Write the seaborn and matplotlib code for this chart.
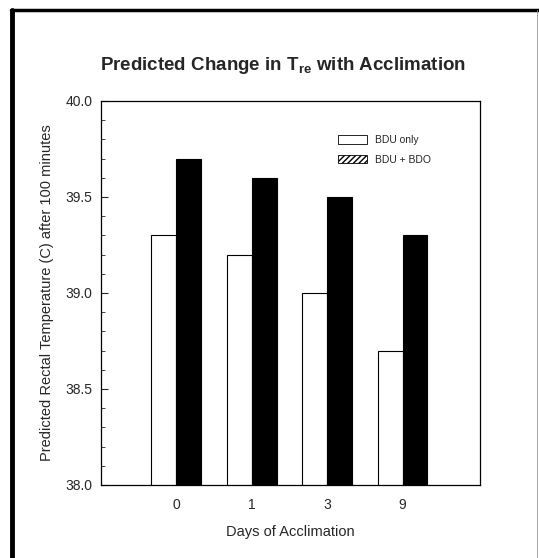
import numpy as np
import pandas as pd
import seaborn as sns
import matplotlib.pyplot as plt
from matplotlib.patches import Patch
from matplotlib.lines import Line2D
from matplotlib.ticker import MultipleLocator

# Values
days = ["0", "1", "3", "9"]
bdu_only = [39.3, 39.2, 39.0, 38.7]
bdu_bdo = [39.7, 39.6, 39.5, 39.3]
series = ["BDU only", "BDU + BDO"]

df = pd.DataFrame({
    "day": days * 2,
    "temp": bdu_only + bdu_bdo,
    "clothing": [series[0]] * len(days) + [series[1]] * len(days),
})

sns.set_style("white")
plt.rcParams["font.family"] = ["Liberation Sans", "DejaVu Sans"]
plt.rcParams["mathtext.fontset"] = "custom"
plt.rcParams["mathtext.rm"] = "Liberation Sans:bold"
plt.rcParams["mathtext.default"] = "rm"

fig = plt.figure(figsize=(5.39, 5.58), dpi=100)
ax = fig.add_axes([0.187, 0.131, 0.704, 0.688])

sns.barplot(
    data=df, x="day", y="temp", hue="clothing", order=days,
    hue_order=series, palette={"BDU only": "white", "BDU + BDO": "black"},
    edgecolor="black", linewidth=0.8, width=0.66, ax=ax, legend=False,
)

ax.set_ylim(38.0, 40.0)
ax.set_xlim(-1, 4.03)
ax.yaxis.set_major_locator(MultipleLocator(0.5))
ax.yaxis.set_minor_locator(MultipleLocator(0.1))
ax.yaxis.set_major_formatter(plt.FormatStrFormatter("%.1f"))
ax.tick_params(axis="y", which="major", direction="in", length=5, width=0.8,
               left=True, labelsize=10, pad=6)
ax.tick_params(axis="y", which="minor", direction="in", length=3, width=0.6,
               left=True)
ax.tick_params(axis="x", bottom=False, labelsize=10, pad=6)
for s in ax.spines.values():
    s.set_linewidth(0.9)
    s.set_color("black")

ax.set_xlabel("Days of Acclimation", fontsize=10.5, labelpad=9)
ax.set_ylabel("Predicted Rectal Temperature (C) after 100 minutes",
              fontsize=10.5, labelpad=8)

handles = [
    Patch(facecolor="white", edgecolor="black", linewidth=0.6),
    Patch(facecolor="white", edgecolor="black", linewidth=0.6, hatch="//////"),
]
ax.legend(handles, series, loc="upper left", bbox_to_anchor=(0.6, 0.935),
          frameon=False, fontsize=7.5, handlelength=2.8, handleheight=0.9,
          handletextpad=0.8, labelspacing=0.9)

fig.text(0.525, 0.882, "Predicted Change in T$_{re}$ with Acclimation",
         ha="center", va="center", fontsize=13.5, fontweight="bold")

# scanned page frame
fig.add_artist(Line2D([0.022, 0.022], [0.0, 0.982], color="black", lw=3.5))
fig.add_artist(Line2D([0.02, 1.0], [0.982, 0.982], color="black", lw=2.5))
fig.add_artist(Line2D([0.997, 0.997], [0.0, 0.982], color="#999999", lw=0.6))

fig.savefig("out.png", dpi=100)
